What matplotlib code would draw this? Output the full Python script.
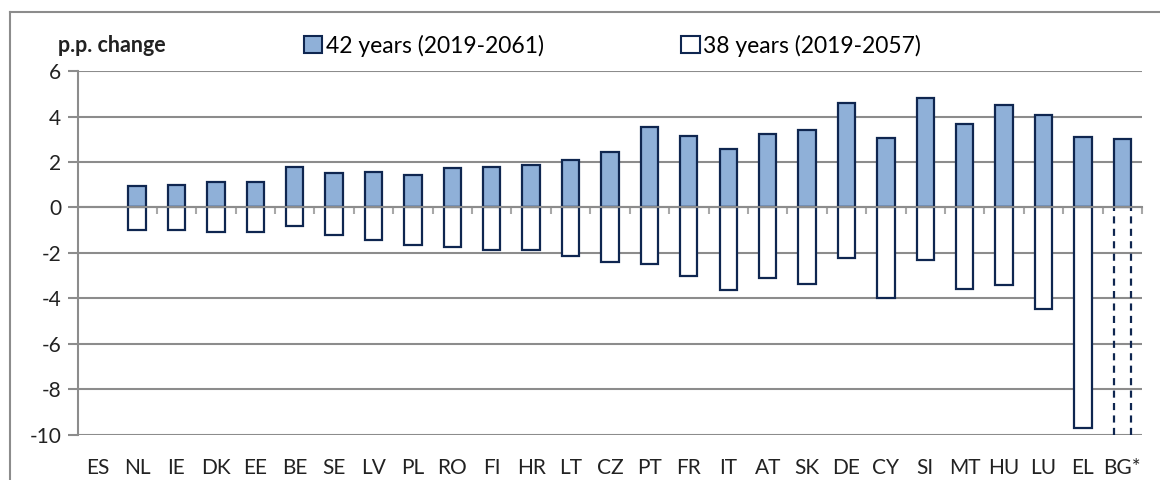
import numpy as np
import matplotlib
matplotlib.use('Agg')
import matplotlib.pyplot as plt
from matplotlib.lines import Line2D
from matplotlib.patches import Patch

plt.rcParams['font.family'] = ['Lato', 'DejaVu Sans']
plt.rcParams['axes.unicode_minus'] = False

# change in p.p., by country (ES: no bars)
countries = ['ES', 'NL', 'IE', 'DK', 'EE', 'BE', 'SE', 'LV', 'PL', 'RO', 'FI', 'HR', 'LT', 'CZ',
             'PT', 'FR', 'IT', 'AT', 'SK', 'DE', 'CY', 'SI', 'MT', 'HU', 'LU', 'EL', 'BG*']
years_42 = [np.nan, 0.95, 1.0, 1.1, 1.1, 1.8, 1.5, 1.55, 1.45, 1.75, 1.8, 1.85, 2.1, 2.45,
            3.55, 3.15, 2.55, 3.25, 3.4, 4.58, 3.05, 4.82, 3.68, 4.52, 4.08, 3.12, 3.0]
years_38 = [np.nan, -1.0, -0.98, -1.1, -1.1, -0.8, -1.2, -1.45, -1.65, -1.75, -1.85, -1.85, -2.15, -2.4,
            -2.5, -3.0, -3.65, -3.1, -3.35, -2.2, -4.0, -2.3, -3.6, -3.4, -4.45, -9.7, np.nan]
# BG* has no 38-year figure: shown as an open dashed bar down to the axis floor
bg_floor = -10

fill = '#8fb0d8'
edge = '#0f2650'
grey = '#8c8c8c'

fig = plt.figure(figsize=(11.6, 4.8), dpi=100)
ax = fig.add_axes([0.0672, 0.094, 0.9173, 0.758])

x = np.arange(len(countries))
w = 0.44
ax.bar(x, years_42, w, color=fill, edgecolor=edge, linewidth=1.6, zorder=3)
ax.bar(x, years_38, w, color='white', edgecolor=edge, linewidth=1.6, zorder=3)

# open dashed outline for BG*
i = countries.index('BG*')
ax.vlines([x[i] - w / 2, x[i] + w / 2], bg_floor, 0, colors=edge, linewidth=1.6,
          linestyles=(0, (3.2, 2.4)), zorder=3)

ax.set_xlim(-0.5, len(countries) - 0.5)
ax.set_ylim(-10, 6)
ax.set_yticks(range(-10, 7, 2))
ax.yaxis.grid(True, color=grey, linewidth=1.5, zorder=0)
ax.set_axisbelow(True)

for s in ['top', 'right']:
    ax.spines[s].set_visible(False)
ax.spines['left'].set_color(grey)
ax.spines['left'].set_linewidth(1.5)
ax.spines['bottom'].set_position(('data', 0))
ax.spines['bottom'].set_color(grey)
ax.spines['bottom'].set_linewidth(1.5)
ax.spines['bottom'].set_zorder(4)

ax.set_xticks(x[1:] + 0.5)
ax.set_xticklabels([])
ax.tick_params(axis='x', direction='out', length=5, width=1.5, color='#a8a8a8')
ax.tick_params(axis='y', direction='out', length=7, width=1.5, color=grey,
               labelsize=15, pad=5, labelcolor='#222222')

for xi, name in zip(x, countries):
    ax.text(xi, -0.09, name, transform=ax.get_xaxis_transform(), ha='center', va='center',
            fontsize=15, color='#222222')

fig.text(0.05, 0.905, 'p.p. change', fontsize=15.5, fontweight='bold', ha='left', va='center',
         color='#222222')

handles = [Patch(facecolor=fill, edgecolor=edge, linewidth=1.5),
           Patch(facecolor='white', edgecolor=edge, linewidth=1.5)]
fig.legend(handles, ['42 years (2019-2061)', '38 years (2019-2057)'], loc='center left',
           bbox_to_anchor=(0.262, 0.905), ncol=2, frameon=False, fontsize=16.5,
           handlelength=0.8, handleheight=0.8, handletextpad=0.15, columnspacing=6.0,
           borderaxespad=0, borderpad=0)

# chart frame (top and left edges)
fig.add_artist(Line2D([10 / 1160, 1], [1 - 12 / 480] * 2, transform=fig.transFigure,
                      color=grey, linewidth=1.5))
fig.add_artist(Line2D([10 / 1160] * 2, [0, 1 - 12 / 480], transform=fig.transFigure,
                      color=grey, linewidth=1.5))

fig.savefig('out.png', dpi=100)
